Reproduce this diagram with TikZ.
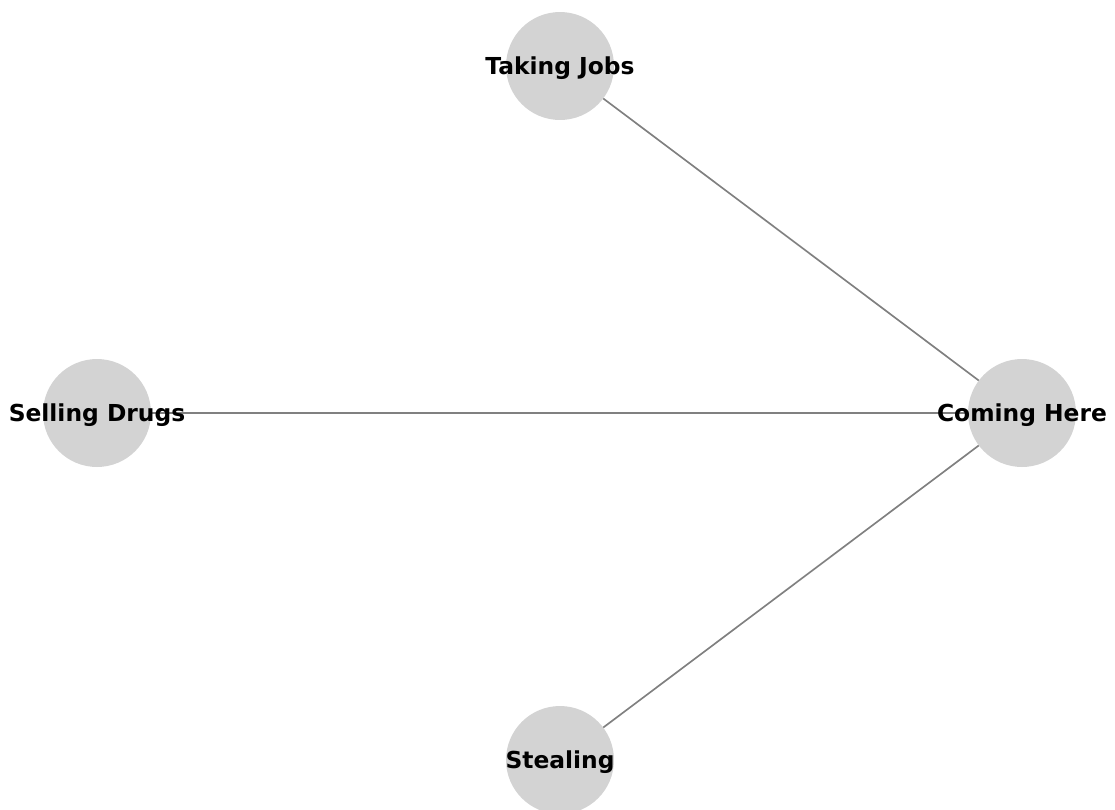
\documentclass[tikz,border=0pt]{standalone}
\usepackage{fontspec}
\setmainfont{DejaVu Sans}
\usetikzlibrary{backgrounds}
\definecolor{topicgray}{RGB}{211,211,211}
\definecolor{linkgray}{RGB}{128,128,128}
\begin{document}
\begin{tikzpicture}[x=0.02cm, y=-0.02cm]
      %% Styles for the topics
      \tikzset
      {
      topic/.style={circle, fill=topicgray, inner sep=0pt, outer sep=0pt, minimum width=2.16cm},
      topic label/.style={font=\fontsize{13.3}{15}\selectfont\bfseries, inner sep=0pt, yshift=-1.1pt},
      link/.style={draw=linkgray, line width=0.95pt},
      }
      \useasboundingbox (0,0) rectangle (1115,809);
      %% Topics
      \node[topic, label={[topic label]center:Taking Jobs}] (jobs) at (560,66) {};
      \node[topic, label={[topic label]center:Selling Drugs}] (drugs) at (97,413) {};
      \node[topic, label={[topic label]center:Coming Here}] (here) at (1022,413) {};
      \node[topic, label={[topic label]center:Stealing}] (steal) at (560,760) {};
      %% Links
      \begin{pgfonlayer}{background}
      \draw[link] (jobs) -- (here);
      \draw[link] (drugs) -- (here);
      \draw[link] (steal) -- (here);
      \end{pgfonlayer}
   \end{tikzpicture}
\end{document}
